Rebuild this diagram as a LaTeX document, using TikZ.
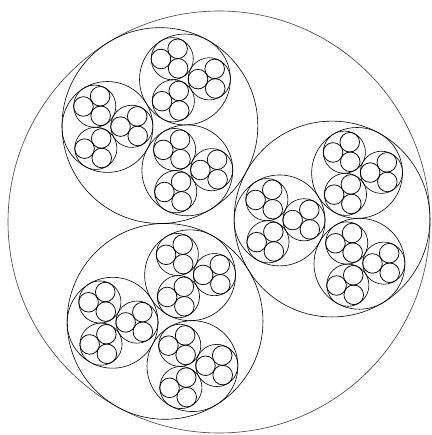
\documentclass[tikz,border=0pt]{standalone}
\usetikzlibrary{calc}
\tikzset{
  ring/.style={draw=black, line width=0.6pt},
  outerring/.style={draw=black!75, line width=0.6pt},
  smallring/.style={draw=black, line width=0.75pt}
}
\begin{document}
\begin{tikzpicture}[x=1pt,y=-1pt]
\useasboundingbox (0,0) rectangle (431,435);
\coordinate (O) at (219,222);
\begin{scope}[shift={(O)}]
  \path[outerring] (0,0) circle[radius=211];
  \foreach \a in {0,120,240}{
    \begin{scope}[shift={(\a-1.5:113.08)}]
      \path[ring] (0,0) circle[radius=97.92];
      \foreach \b in {180,300,60}{
        \begin{scope}[shift={(\b-1.5:52.47)}]
          \path[ring] (0,0) circle[radius=45.45];
          \foreach \c in {0,120,240}{
            \begin{scope}[shift={(\c-1.5:24.36)}]
              \path[ring] (0,0) circle[radius=21.09];
              \foreach \d in {180,300,60}{
                \path[smallring] (\d-1.5:11.30) circle[radius=9.79];
              }
            \end{scope}
          }
        \end{scope}
      }
    \end{scope}
  }
\end{scope}
\end{tikzpicture}
\end{document}
